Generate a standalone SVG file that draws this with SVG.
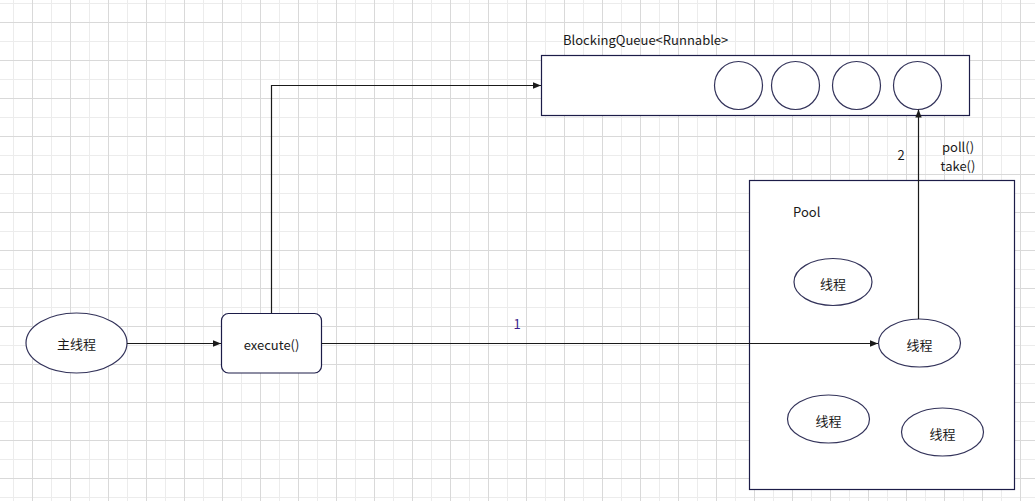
<svg xmlns="http://www.w3.org/2000/svg" width="1035" height="501" viewBox="0 0 1035 501">
<defs>
<pattern id="grid" x="13" y="3" width="38" height="38" patternUnits="userSpaceOnUse">
<path d="M0.5 0V38M0 0.5H38" stroke="#ececec" stroke-width="1" fill="none"/>
<path d="M19.5 0V38M0 19.5H38" stroke="#d9d9d9" stroke-width="1" fill="none"/>
</pattern>
<marker id="arr" viewBox="0 0 10 10" refX="10" refY="5" markerWidth="8" markerHeight="8" orient="auto" markerUnits="userSpaceOnUse">
<path d="M0 1L10 5L0 9Z" fill="#1a1a1a"/>
</marker>
<style>
.shape{fill:#fff;stroke:#1c1c48;stroke-width:1.2}
.ell{fill:#fff;stroke:#33335a;stroke-width:1.2}
.conn{fill:none;stroke:#1a1a1a;stroke-width:1.2}
text{font-family:"Noto Sans CJK SC","Liberation Sans",sans-serif;font-size:13px;fill:#1a1a1a}
.mid{text-anchor:middle;dominant-baseline:central}
</style>
</defs>
<rect width="1035" height="501" fill="#fff"/>
<rect width="1035" height="501" fill="url(#grid)"/>

<g id="queue">
<rect class="shape" x="541.5" y="55.5" width="428" height="60"/>
<circle class="ell" cx="738.5" cy="85.5" r="24"/>
<circle class="ell" cx="795.5" cy="85.5" r="24"/>
<circle class="ell" cx="856.5" cy="85.5" r="24"/>
<circle class="ell" cx="917.5" cy="85.5" r="24"/>
<text x="563" y="45">BlockingQueue&lt;Runnable&gt;</text>
</g>

<g id="pool">
<rect class="shape" x="749.5" y="180.5" width="265" height="309"/>
<text x="793" y="217">Pool</text>
</g>

<g id="main-thread">
<ellipse class="ell" cx="76.5" cy="343" rx="50.5" ry="30"/>
<text class="mid" x="76.5" y="343">主线程</text>
</g>

<g id="execute">
<rect class="shape" x="221.5" y="313.5" width="100" height="59.5" rx="7"/>
<text class="mid" x="271.5" y="344">execute()</text>
</g>

<g id="thread1">
<ellipse class="ell" cx="833" cy="282" rx="39" ry="23.5"/>
<text class="mid" x="833" y="283">线程</text>
</g>
<g id="thread2">
<ellipse class="ell" cx="919.5" cy="343" rx="41" ry="24"/>
<text class="mid" x="919.5" y="344">线程</text>
</g>
<g id="thread3">
<ellipse class="ell" cx="828.5" cy="419" rx="41" ry="24"/>
<text class="mid" x="828.5" y="420">线程</text>
</g>
<g id="thread4">
<ellipse class="ell" cx="942.5" cy="432" rx="41" ry="24"/>
<text class="mid" x="942.5" y="433">线程</text>
</g>

<g id="connectors">
<path class="conn" d="M127 343.5H221" marker-end="url(#arr)"/>
<path class="conn" d="M271.5 313V85.5H541" marker-end="url(#arr)"/>
<path class="conn" d="M321.5 343.5H878" marker-end="url(#arr)"/>
<path class="conn" d="M918.5 319V109.5" marker-end="url(#arr)"/>
<text class="mid" x="517" y="323" style="fill:#3b1e8c">1</text>
<text class="mid" x="901" y="154">2</text>
<text class="mid" x="958" y="146">poll()</text>
<text class="mid" x="958" y="165">take()</text>
</g>
</svg>
